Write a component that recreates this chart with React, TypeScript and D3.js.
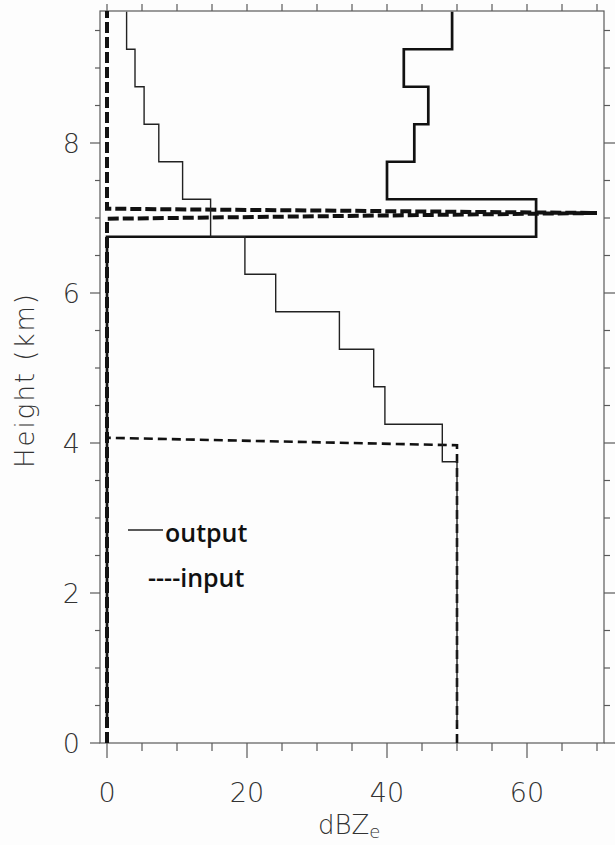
import React from "react";
import * as d3 from "d3";

// Bin edges of the output profiles (km)
const binEdges = [0.25, 0.75, 1.25, 1.75, 2.25, 2.75, 3.25, 3.75, 4.25, 4.75, 5.25, 5.75, 6.25, 6.75, 7.25, 7.75, 8.25, 8.75, 9.25, 9.75];

// Output profile A (thick solid): dBZe per bin
const outputA = [0, 0, 0, 0, 0, 0, 0, 0, 0, 0, 0, 0, 0, 61.3, 40.0, 43.9, 45.9, 42.4, 49.3];
// Output profile B (thin solid)
const outputB = [50, 50, 50, 50, 50, 50, 50, 47.9, 39.7, 38.1, 33.2, 24.1, 19.7, 14.8, 10.8, 7.4, 5.3, 4.0, 2.8];

// Input profile A (thick dashed): [dBZe, height]
const inputA: [number, number][] = [[0, 0], [0, 6.99], [70, 7.067], [0, 7.124], [0, 9.76]];
// Input profile B (dashed)
const inputB: [number, number][] = [[50, 0], [50, 3.97], [0, 4.07]];

const xTicksMajor = [0, 20, 40, 60];
const xTicksMinor = [0, 5, 10, 15, 20, 25, 30, 35, 40, 45, 50, 55, 60, 65, 70];
const yTicksMajor = [0, 2, 4, 6, 8];
const yTicksMinor = [0.5, 1, 1.5, 2.5, 3, 3.5, 4.5, 5, 5.5, 6.5, 7, 7.5, 8.5, 9, 9.5];

const W = 615, H = 845;
const L = 100, R = 604, T = 11, B = 743;

export default function App() {
  const x = d3.scaleLinear().domain([-1, 71]).range([L, R]);
  const y = d3.scaleLinear().domain([0, 9.76]).range([B, T]);
  const line = d3.line<[number, number]>().x(d => x(d[0])).y(d => y(d[1]));

  const stepPts = (vals: number[]): [number, number][] =>
    vals.flatMap((v, i) => [[v, binEdges[i]], [v, binEdges[i + 1]]] as [number, number][]);

  const axisCol = "#5a5a5a";
  const tickFont = "'DejaVu Sans', sans-serif";

  return (
    <svg width={W} height={H} style={{ position: "absolute", left: 0, top: 0, background: "#fdfdfd" }}>
      <rect x={0} y={0} width={W} height={H} fill="#fdfdfd" />
      {/* frame */}
      <rect x={L} y={T} width={R - L} height={B - T} fill="none" stroke={axisCol} strokeWidth={1.2} />
      {/* top ticks */}
      {xTicksMinor.map(t => (
        <line key={"tt" + t} x1={x(t)} x2={x(t)} y1={T} y2={T - 7} stroke={axisCol} strokeWidth={1.2} />
      ))}
      {/* bottom ticks */}
      {xTicksMinor.map(t => (
        <line key={"bt" + t} x1={x(t)} x2={x(t)} y1={B} y2={B + (xTicksMajor.includes(t) ? 15 : 8)} stroke={axisCol} strokeWidth={1.2} />
      ))}
      {/* left/right ticks */}
      {yTicksMajor.map(t => (
        <g key={"ym" + t}>
          <line x1={L} x2={L - 10} y1={y(t)} y2={y(t)} stroke={axisCol} strokeWidth={1.2} />
          <line x1={R} x2={R + 11} y1={y(t)} y2={y(t)} stroke={axisCol} strokeWidth={1.2} />
        </g>
      ))}
      {yTicksMinor.map(t => (
        <g key={"yn" + t}>
          <line x1={L} x2={L - 5} y1={y(t)} y2={y(t)} stroke={axisCol} strokeWidth={1.2} />
          <line x1={R} x2={R + 6} y1={y(t)} y2={y(t)} stroke={axisCol} strokeWidth={1.2} />
        </g>
      ))}
      {/* tick labels */}
      {xTicksMajor.map(t => (
        <text key={"xl" + t} x={x(t)} y={802} textAnchor="middle" fontFamily={tickFont} fontWeight={200} fontSize={27} fill="#333">{t}</text>
      ))}
      {yTicksMajor.map(t => (
        <text key={"yl" + t} x={80} y={y(t) + 10} textAnchor="end" fontFamily={tickFont} fontWeight={200} fontSize={27} fill="#333">{t}</text>
      ))}
      {/* axis titles */}
      <text transform="translate(34,380) rotate(-90)" textAnchor="middle" fontFamily={tickFont} fontWeight={200} fontSize={26} letterSpacing={2} fill="#333">Height (km)</text>
      <text x={318} y={834} fontFamily={tickFont} fontWeight={200} fontSize={26} fill="#333">
        dBZ<tspan fontSize={18} dy={4}>e</tspan>
      </text>

      {/* input profiles */}
      <path d={line(inputA) || ""} fill="none" stroke="#111" strokeWidth={4} strokeDasharray="11,4" />
      <path d={line(inputB) || ""} fill="none" stroke="#111" strokeWidth={2.6} strokeDasharray="9,5" />
      {/* output profiles */}
      <path d={line(stepPts(outputA)) || ""} fill="none" stroke="#111" strokeWidth={2.7} />
      <path d={line(stepPts(outputB)) || ""} fill="none" stroke="#222" strokeWidth={1.4} />

      {/* legend */}
      <line x1={128} x2={163} y1={530} y2={530} stroke="#222" strokeWidth={1.4} />
      <text x={165} y={542} fontFamily="'Open Sans', sans-serif" fontWeight={600} fontSize={25} fill="#111">output</text>
      <text x={148} y={587} fontFamily="'Open Sans', sans-serif" fontWeight={600} fontSize={25} fill="#111">----input</text>
    </svg>
  );
}
